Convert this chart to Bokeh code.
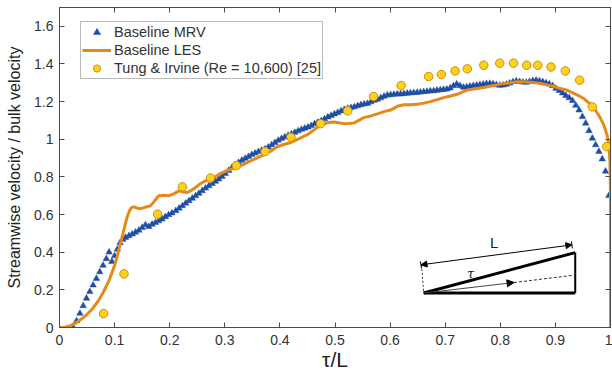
from bokeh.plotting import figure
from bokeh.models import (FixedTicker, LinearAxis, Range1d, Legend, LegendItem,
                          Arrow, NormalHead, TeeHead, Label)
from bokeh.embed import file_html
from bokeh.resources import INLINE

# ---------------- data ----------------
mrv_x = [0.025, 0.031, 0.037, 0.043, 0.049, 0.055, 0.061, 0.067, 0.073, 0.079, 0.085, 0.090,
         0.095, 0.100, 0.105, 0.110, 0.115, 0.120, 0.126, 0.132, 0.138, 0.144, 0.150, 0.156,
         0.162, 0.168, 0.174, 0.180, 0.186, 0.192, 0.198, 0.204, 0.211, 0.217, 0.223, 0.229,
         0.235, 0.241, 0.247, 0.253, 0.259, 0.265, 0.271, 0.277, 0.283, 0.289, 0.295, 0.301,
         0.307, 0.313, 0.319, 0.325, 0.331, 0.337, 0.343, 0.349, 0.355, 0.361, 0.367, 0.373,
         0.379, 0.385, 0.391, 0.397, 0.403, 0.409, 0.415, 0.421, 0.427, 0.433, 0.439, 0.445,
         0.451, 0.457, 0.463, 0.469, 0.475, 0.481, 0.487, 0.493, 0.499, 0.505, 0.511, 0.517,
         0.523, 0.529, 0.535, 0.541, 0.547, 0.553, 0.559, 0.565, 0.571, 0.577, 0.583, 0.589,
         0.595, 0.601, 0.607, 0.613, 0.619, 0.625, 0.631, 0.637, 0.643, 0.649, 0.655, 0.661,
         0.667, 0.673, 0.679, 0.685, 0.691, 0.697, 0.703, 0.709, 0.715, 0.721, 0.727, 0.733,
         0.739, 0.745, 0.751, 0.757, 0.763, 0.769, 0.775, 0.781, 0.787, 0.793, 0.799, 0.805,
         0.811, 0.817, 0.823, 0.829, 0.835, 0.841, 0.847, 0.853, 0.859, 0.865, 0.871, 0.877,
         0.883, 0.889, 0.895, 0.901, 0.907, 0.913, 0.919, 0.925, 0.931, 0.937, 0.943, 0.949,
         0.955, 0.961, 0.967, 0.973, 0.979, 0.985, 0.991, 0.997]
mrv_y = [0.000, 0.035, 0.075, 0.115, 0.155, 0.190, 0.225, 0.260, 0.295, 0.330, 0.365, 0.400,
         0.350, 0.380, 0.415, 0.450, 0.468, 0.478, 0.487, 0.496, 0.506, 0.516, 0.530, 0.545,
         0.536, 0.548, 0.557, 0.566, 0.576, 0.588, 0.598, 0.608, 0.620, 0.633, 0.646, 0.660,
         0.673, 0.686, 0.699, 0.712, 0.726, 0.740, 0.752, 0.764, 0.776, 0.788, 0.802, 0.818,
         0.834, 0.850, 0.864, 0.876, 0.888, 0.898, 0.908, 0.918, 0.926, 0.934, 0.941, 0.948,
         0.958, 0.970, 0.982, 0.994, 1.004, 1.012, 1.020, 1.028, 1.036, 1.044, 1.052, 1.058,
         1.064, 1.072, 1.082, 1.090, 1.098, 1.108, 1.118, 1.126, 1.134, 1.142, 1.150, 1.158,
         1.164, 1.168, 1.172, 1.178, 1.183, 1.187, 1.190, 1.198, 1.206, 1.212, 1.220, 1.228,
         1.234, 1.236, 1.238, 1.240, 1.240, 1.242, 1.244, 1.246, 1.247, 1.248, 1.250, 1.252,
         1.254, 1.256, 1.257, 1.260, 1.262, 1.264, 1.266, 1.272, 1.284, 1.293, 1.284, 1.276,
         1.278, 1.282, 1.285, 1.287, 1.290, 1.292, 1.295, 1.296, 1.294, 1.290, 1.286, 1.287,
         1.292, 1.298, 1.305, 1.309, 1.306, 1.303, 1.302, 1.306, 1.311, 1.313, 1.310, 1.305,
         1.299, 1.293, 1.284, 1.270, 1.258, 1.245, 1.232, 1.220, 1.205, 1.180, 1.155, 1.120,
         1.085, 1.045, 1.005, 0.970, 0.935, 0.895, 0.830, 0.700]

les_x = [0.000, 0.010, 0.020, 0.030, 0.040, 0.050, 0.060, 0.070, 0.080, 0.090, 0.100, 0.105,
         0.110, 0.117, 0.122, 0.127, 0.131, 0.135, 0.140, 0.145, 0.150, 0.157, 0.165, 0.172,
         0.180, 0.190, 0.198, 0.207, 0.217, 0.225, 0.232, 0.240, 0.247, 0.256, 0.265, 0.280,
         0.292, 0.305, 0.321, 0.335, 0.347, 0.360, 0.373, 0.385, 0.395, 0.410, 0.420, 0.435,
         0.449, 0.462, 0.474, 0.486, 0.498, 0.507, 0.516, 0.525, 0.534, 0.543, 0.552, 0.565,
         0.577, 0.590, 0.601, 0.613, 0.625, 0.637, 0.649, 0.661, 0.673, 0.685, 0.697, 0.710,
         0.722, 0.731, 0.740, 0.755, 0.770, 0.785, 0.800, 0.815, 0.831, 0.846, 0.861, 0.873,
         0.885, 0.897, 0.903, 0.920, 0.940, 0.952, 0.964, 0.970, 0.976, 0.982, 0.988, 0.994,
         0.997, 0.999, 1.000, 1.000]
les_y = [0.000, 0.002, 0.010, 0.025, 0.045, 0.070, 0.100, 0.140, 0.190, 0.250, 0.330, 0.380,
         0.440, 0.520, 0.580, 0.620, 0.638, 0.641, 0.635, 0.632, 0.634, 0.640, 0.646, 0.670,
         0.700, 0.703, 0.700, 0.710, 0.726, 0.720, 0.717, 0.730, 0.744, 0.765, 0.779, 0.796,
         0.818, 0.835, 0.850, 0.868, 0.885, 0.903, 0.921, 0.940, 0.960, 0.975, 0.983, 1.003,
         1.023, 1.050, 1.077, 1.088, 1.092, 1.088, 1.083, 1.084, 1.086, 1.100, 1.115, 1.124,
         1.135, 1.148, 1.155, 1.175, 1.183, 1.184, 1.186, 1.192, 1.200, 1.210, 1.221, 1.230,
         1.239, 1.250, 1.261, 1.268, 1.275, 1.284, 1.293, 1.299, 1.305, 1.304, 1.301, 1.296,
         1.289, 1.282, 1.274, 1.262, 1.235, 1.215, 1.185, 1.165, 1.140, 1.110, 1.075, 1.020,
         0.970, 0.880, 0.700, 0.000]

tung_x = [0.080, 0.117, 0.178, 0.223, 0.274, 0.321, 0.373, 0.420, 0.474, 0.523, 0.570, 0.620,
          0.670, 0.693, 0.718, 0.740, 0.770, 0.799, 0.824, 0.848, 0.868, 0.892, 0.918, 0.944,
          0.967, 0.993]
tung_y = [0.074, 0.285, 0.602, 0.747, 0.794, 0.860, 0.935, 1.011, 1.083, 1.151, 1.227, 1.285,
          1.333, 1.344, 1.363, 1.374, 1.393, 1.404, 1.404, 1.393, 1.393, 1.384, 1.363, 1.314,
          1.172, 0.961]

x_ticks = [0, 0.1, 0.2, 0.3, 0.4, 0.5, 0.6, 0.7, 0.8, 0.9, 1]
x_tick_labels = ["0", "0.1", "0.2", "0.3", "0.4", "0.5", "0.6", "0.7", "0.8", "0.9", "1"]
y_ticks = [0, 0.2, 0.4, 0.6, 0.8, 1, 1.2, 1.4, 1.6]
y_tick_labels = ["0", "0.2", "0.4", "0.6", "0.8", "1", "1.2", "1.4", "1.6"]

series_names = ["Baseline MRV", "Baseline LES", "Tung & Irvine (Re = 10,600) [25]"]

# ---------------- styles ----------------
BLUE = "#1f4fa3"
ORANGE = "#e5891c"
YELLOW = "#ffd21a"
YELLOW_EDGE = "#d08a12"
AX = "#4a4a4a"
TXT = "#333333"
FONT = "Liberation Sans"

p = figure(width=612, height=374, output_backend="svg", toolbar_location=None,
           x_range=Range1d(0, 1), y_range=Range1d(0, 1.7),
           min_border_left=59, min_border_right=2, min_border_top=7, min_border_bottom=47)
p.background_fill_color = "white"
p.border_fill_color = "white"
p.grid.visible = False
p.outline_line_color = AX
p.outline_line_width = 1

xl = p.xaxis[0]
yl = p.yaxis[0]
for ax, ticks, labels in ((xl, x_ticks, x_tick_labels), (yl, y_ticks, y_tick_labels)):
    ax.ticker = FixedTicker(ticks=ticks)
    ax.major_label_overrides = {t: l for t, l in zip(ticks, labels)}
    ax.minor_tick_line_color = None
    ax.major_tick_in = 5
    ax.major_tick_out = 0
    ax.axis_line_color = AX
    ax.major_tick_line_color = AX
    ax.major_label_text_font = FONT
    ax.major_label_text_font_size = "14px"
    ax.major_label_text_color = TXT
    ax.axis_label_text_font = FONT
    ax.axis_label_text_font_style = "normal"
    ax.axis_label_text_color = "#222222"
xl.axis_label = "τ/L"
xl.axis_label_text_font_size = "21px"
xl.major_label_standoff = 7
xl.axis_label_standoff = 0
yl.axis_label = "Streamwise velocity / bulk velocity"
yl.axis_label_text_font_size = "16px"
yl.major_label_standoff = 6
yl.axis_label_standoff = 8

for loc, ticks in (("above", x_ticks), ("right", y_ticks)):
    a = LinearAxis(ticker=FixedTicker(ticks=ticks), major_tick_in=5, major_tick_out=0,
                   minor_tick_line_color=None, axis_line_color=AX, major_tick_line_color=AX,
                   major_label_text_font_size="0px", major_label_standoff=0,
                   major_label_overrides={t: "" for t in ticks})
    p.add_layout(a, loc)

# ---------------- data glyphs ----------------
r_mrv = p.scatter(mrv_x, mrv_y, marker="triangle", size=6.5, fill_color=BLUE,
                  line_color=BLUE, line_width=0.5)
r_les = p.line(les_x, les_y, line_color=ORANGE, line_width=3)
r_tung = p.scatter(tung_x, tung_y, marker="circle", size=8.5, fill_color=YELLOW,
                   line_color=YELLOW_EDGE, line_width=1)

legend = Legend(items=[LegendItem(label=series_names[0], renderers=[r_mrv]),
                       LegendItem(label=series_names[1], renderers=[r_les]),
                       LegendItem(label=series_names[2], renderers=[r_tung])],
                location=(21, 248), padding=1, spacing=0, margin=0,
                label_text_font=FONT, label_text_font_size="14.5px", label_text_color=TXT,
                label_height=18, glyph_height=18, glyph_width=29, label_standoff=3,
                border_line_color="#777777", border_line_width=1,
                background_fill_alpha=1.0)
p.add_layout(legend)

# ---------------- inset schematic ----------------
ox, oy = 0.661, 0.183      # triangle origin
rx, ry = 0.936, 0.398      # top right corner
p.line([ox, rx], [oy, oy], line_color="black", line_width=3)
p.line([ox, rx], [oy, ry], line_color="black", line_width=3)
p.line([rx, rx], [oy, ry], line_color="black", line_width=2)
p.line([0.657, ox], [0.333, oy], line_color="#333333", line_width=1, line_dash="2 2")
p.line([0.825, 0.934], [0.239, 0.278], line_color="#333333", line_width=1, line_dash="3 2")
p.add_layout(Arrow(x_start=ox, y_start=oy, x_end=0.825, y_end=0.239, line_width=1,
                   line_color="#444444",
                   end=NormalHead(size=7, fill_color="black", line_color="black")))
p.add_layout(Arrow(x_start=0.656, y_start=0.333, x_end=0.930, y_end=0.439, line_width=1,
                   line_color="black",
                   start=NormalHead(size=6, fill_color="black", line_color="black"),
                   end=NormalHead(size=6, fill_color="black", line_color="black")))
p.add_layout(Arrow(x_start=0.656, y_start=0.333, x_end=0.930, y_end=0.439, line_width=1,
                   line_color="black", line_alpha=0,
                   start=TeeHead(size=7, line_color="black", line_width=1),
                   end=TeeHead(size=7, line_color="black", line_width=1)))
p.add_layout(Label(x=0.789, y=0.452, text="L", text_align="center", text_baseline="middle",
                   text_font=FONT, text_font_size="15px", text_color="#222222"))
p.add_layout(Label(x=0.746, y=0.285, text="τ", text_align="center", text_baseline="middle",
                   text_font="DejaVu Serif", text_font_size="13px", text_color="#222222",
                   text_font_style="italic"))

open("out.html", "w").write(file_html(p, INLINE))
